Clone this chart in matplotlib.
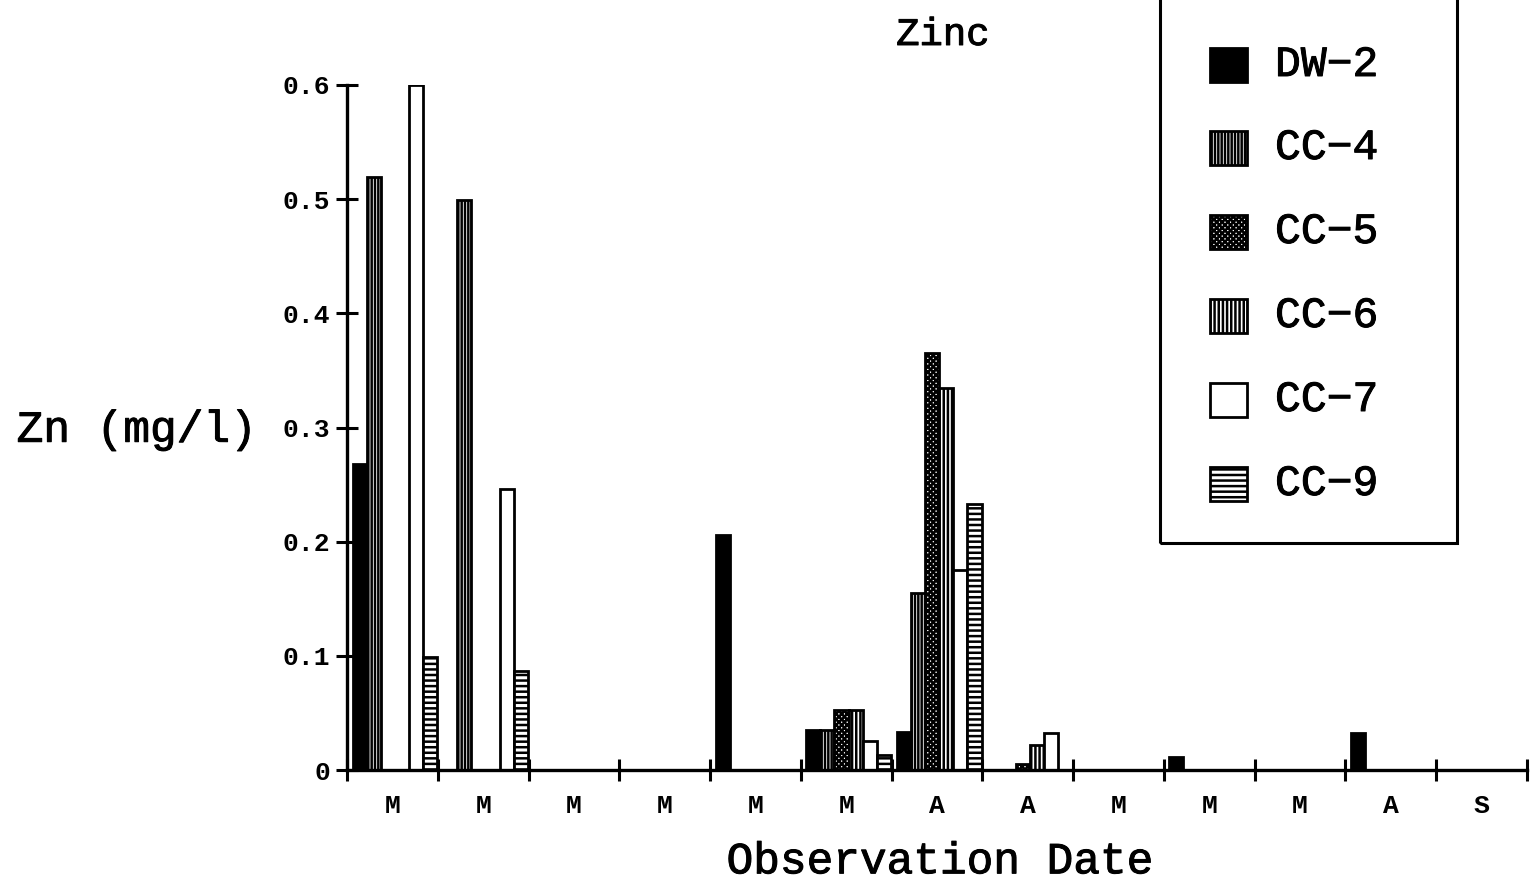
import numpy as np
import matplotlib
matplotlib.use('Agg')
import matplotlib.pyplot as plt
import matplotlib.patheffects as pe
from matplotlib.patches import Rectangle
from matplotlib.ticker import FixedLocator, FuncFormatter

plt.rcParams['font.family'] = ['Liberation Mono', 'DejaVu Sans Mono']
plt.rcParams['hatch.linewidth'] = 1.8

# zinc concentrations per observation date
dates = ['M', 'M', 'M', 'M', 'M', 'M', 'A', 'A', 'M', 'M', 'M', 'A', 'S']
dw2 = [0.268, 0, 0, 0, 0.206, 0.035, 0.033, 0, 0, 0.011, 0, 0.032, 0]
cc4 = [0.519, 0.499, 0, 0, 0, 0.035, 0.155, 0, 0, 0, 0, 0, 0]
cc5 = [0, 0, 0, 0, 0, 0.053, 0.365, 0.005, 0, 0, 0, 0, 0]
cc6 = [0, 0, 0, 0, 0, 0.053, 0.335, 0.022, 0, 0, 0, 0, 0]
cc7 = [0.6, 0.246, 0, 0, 0, 0.025, 0.175, 0.032, 0, 0, 0, 0, 0]
cc9 = [0.099, 0.087, 0, 0, 0, 0.013, 0.233, 0, 0, 0, 0, 0, 0]

series = [('DW-2', dw2), ('CC-4', cc4), ('CC-5', cc5),
          ('CC-6', cc6), ('CC-7', cc7), ('CC-9', cc9)]
styles = [dict(facecolor='black', hatch=None),
          dict(facecolor='white', hatch='|||||'),
          dict(facecolor='white', hatch='xxxxxx'),
          dict(facecolor='white', hatch='||||'),
          dict(facecolor='white', hatch=None),
          dict(facecolor='white', hatch='---')]

# a little extra stroke on the large labels
heavy = [pe.withStroke(linewidth=0.7, foreground='black')]

fig = plt.figure(figsize=(15.33, 8.9), dpi=100)
ax = fig.add_axes([0.2264, 0.1348, 0.7697, 0.7697])

x = np.arange(len(dates))
offset, width = 0.06, 0.155
for j, ((name, vals), st) in enumerate(zip(series, styles)):
    ax.bar(x + offset + j * width, vals, width, align='edge',
           edgecolor='black', linewidth=2, label=name, **st)

ax.set_xlim(0, len(dates))
ax.set_ylim(0, 0.6)
for s in ['top', 'right']:
    ax.spines[s].set_visible(False)
for s in ['left', 'bottom']:
    ax.spines[s].set_linewidth(2.4)

ax.set_yticks(np.arange(0, 0.61, 0.1))
ax.yaxis.set_major_formatter(FuncFormatter(lambda v, p: '0' if abs(v) < 1e-9 else f'{v:.1f}'))
ax.tick_params(axis='y', direction='inout', length=16, width=2.2, pad=4, labelsize=19)

ax.xaxis.set_major_locator(FixedLocator(np.arange(0, len(dates) + 1)))
ax.xaxis.set_minor_locator(FixedLocator(x + 0.5))
ax.set_xticklabels([], minor=False)
ax.set_xticklabels(dates, minor=True)
ax.tick_params(axis='x', which='major', direction='inout', length=16, width=2.2)
ax.tick_params(axis='x', which='minor', length=0, pad=17, labelsize=19)
for lab in ax.get_yticklabels() + ax.get_xticklabels(minor=True):
    lab.set_fontweight('bold')

ax.set_xlabel('Observation Date', fontsize=32, va='center', path_effects=heavy)
ax.xaxis.set_label_coords(0.503, -0.134)
ax.set_ylabel('Zn (mg/l)', fontsize=32, rotation=0, ha='center', va='center',
              path_effects=heavy)
ax.yaxis.set_label_coords(-0.178, 0.496)

ax.text(0.505, 1.073, 'Zinc', transform=ax.transAxes, ha='center', va='center',
        fontsize=28, path_effects=heavy)

# legend box in the upper right corner
W, H = 1533, 890
fig.add_artist(Rectangle((1160 / W, 1 - 543 / H), 297 / W, 560 / H,
                         transform=fig.transFigure, fill=False,
                         edgecolor='black', linewidth=2.2, clip_on=False))
rows = [65, 148, 232, 316, 400, 484]
for (name, vals), st, yc in zip(series, styles, rows):
    fig.add_artist(Rectangle((1210 / W, 1 - (yc + 17) / H), 37 / W, 34 / H,
                             transform=fig.transFigure, edgecolor='black',
                             linewidth=2, **st))
    fig.text(1275 / W, 1 - yc / H, name.replace('-', '\u2212'), fontsize=31,
             ha='left', va='center', path_effects=heavy)

fig.savefig('out.png', dpi=100)
